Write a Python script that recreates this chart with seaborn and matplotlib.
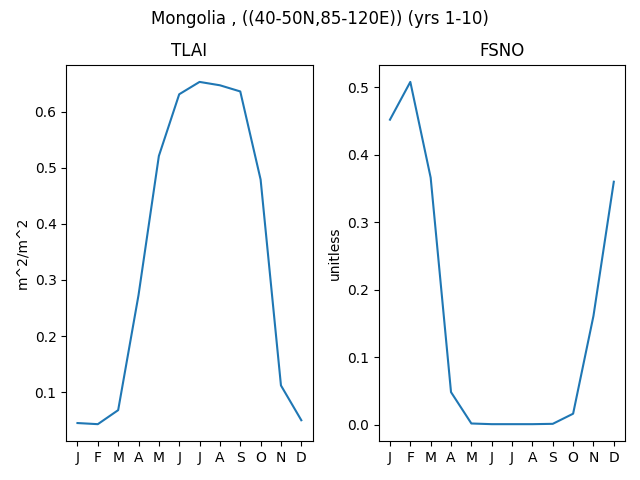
import matplotlib
matplotlib.use("Agg")
import matplotlib.pyplot as plt
import seaborn as sns
import pandas as pd

months = ["J", "F", "M", "A", "M", "J", "J", "A", "S", "O", "N", "D"]
tlai = [0.045, 0.043, 0.068, 0.273, 0.521, 0.631, 0.653, 0.647, 0.636, 0.479, 0.112, 0.050]
fsno = [0.452, 0.508, 0.366, 0.048, 0.0015, 0.0005, 0.0005, 0.0005, 0.001, 0.016, 0.161, 0.360]

month_idx = list(range(12))
df = pd.DataFrame({"m": month_idx, "TLAI": tlai, "FSNO": fsno})

fig, axes = plt.subplots(1, 2, figsize=(6.4, 4.8), dpi=100)
for ax, var, unit in zip(axes, ["TLAI", "FSNO"], ["m^2/m^2", "unitless"]):
    sns.lineplot(data=df, x="m", y=var, ax=ax, color="#1f77b4")
    ax.set_title(var)
    ax.set_ylabel(unit)
    ax.set_xlabel("")
    ax.set_xticks(month_idx)
    ax.set_xticklabels(months)
fig.suptitle("Mongolia , ((40-50N,85-120E)) (yrs 1-10)")
fig.tight_layout()
fig.subplots_adjust(top=0.865)
fig.savefig("out.png")
